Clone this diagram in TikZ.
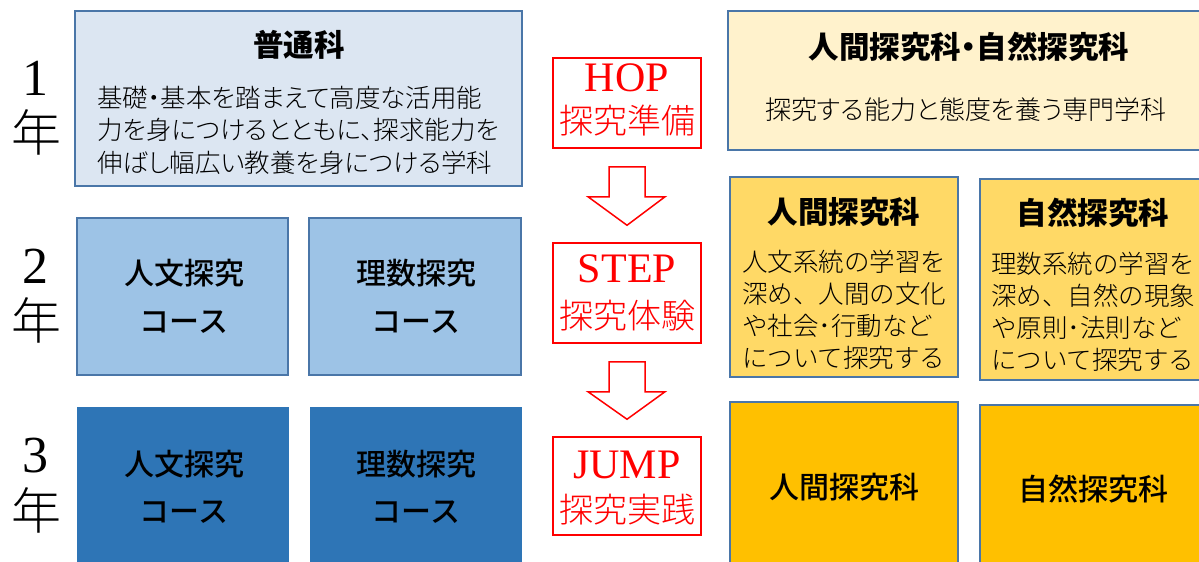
\documentclass[tikz,border=0pt]{standalone}
\usepackage{fontspec}
\setmainfont{Liberation Serif}
\newfontfamily\jp[RawFeature=+palt]{Noto Sans CJK JP}
\newfontfamily\jplight{Noto Sans CJK JP Light}
\newfontfamily\jplightp[RawFeature=+palt]{Noto Sans CJK JP Light}
\newfontfamily\jpmid{Noto Sans CJK JP Medium}
\usetikzlibrary{calc}
\definecolor{boxline}{HTML}{4A76A8}
\definecolor{futsufill}{HTML}{DCE6F2}
\definecolor{courselight}{HTML}{9DC3E6}
\definecolor{coursedeep}{HTML}{2E75B6}
\definecolor{hnpale}{HTML}{FFF2CC}
\definecolor{hnmid}{HTML}{FFD966}
\definecolor{hndeep}{HTML}{FFC000}

\begin{document}
\begin{tikzpicture}[x=1pt, y=-1pt,
  box/.style={draw=boxline, line width=1.6pt, inner sep=0pt},
  stagebox/.style={draw=red, line width=1.5pt, fill=white, minimum width=148pt, inner sep=0pt},
  stageword/.style={text=red, font=\fontsize{42}{42}\selectfont},
  stagejp/.style={text=red, font=\jplight\fontsize{34}{34}\selectfont},
  yearnum/.style={font=\fontsize{52}{52}\selectfont},
  yearjp/.style={font=\jplight\fontsize{50}{50}\selectfont},
  title/.style={font=\jp\bfseries\fontsize{30.5}{30.5}\selectfont},
  course/.style={font=\jpmid\fontsize{30}{30}\selectfont},
  body/.style={align=left, inner sep=0pt, font=\jplight\fontsize{25.5}{32}\selectfont},
  bigarrow/.style={draw=red, line width=1.5pt, fill=white, line join=miter}]
\clip (0,0) rectangle (1199,562);
\useasboundingbox (0,0) rectangle (1199,562);

% years
\foreach \n/\y in {1/78, 2/266, 3/456}{
  \node[yearnum] (yr\n) at (36,\y) {\n};
  \node[yearjp] (nen\n) at (36,\y+54) {年};
}

% 1年 general course
\node[box, fill=futsufill, minimum width=447pt, minimum height=175pt] (futsu) at (298.5,98.5) {};
\node[title] (futsu-t) at (299,45) {普通科};
\node[body, anchor=west, font=\jplightp\fontsize{25.5}{32.5}\selectfont] (futsu-b) at (97,130) {基礎・基本を踏まえて高度な活用能\\力を身につけるとともに、探求能力を\\伸ばし幅広い教養を身につける学科};

% 2年 / 3年 courses
\node[box, fill=courselight, minimum width=211pt, minimum height=157pt] (jin2) at (182.5,296.5) {};
\node[box, fill=courselight, minimum width=212pt, minimum height=157pt] (ri2) at (415,296.5) {};
\node[draw=coursedeep, fill=coursedeep, inner sep=0pt, minimum width=211pt, minimum height=190pt] (jin3) at (182.5,502) {};
\node[draw=coursedeep, fill=coursedeep, inner sep=0pt, minimum width=211pt, minimum height=190pt] (ri3) at (415.5,502) {};
\foreach \c/\w/\x in {jin/人文探究/184, ri/理数探究/416}{
  \node[course] (\c2-a) at (\x,273) {\w};
  \node[course] (\c2-b) at (\x,322) {コース};
  \node[course] (\c3-a) at (\x,464) {\w};
  \node[course] (\c3-b) at (\x,512) {コース};
}

% HOP STEP JUMP
\node[stagebox, minimum height=90pt] (hop) at (627,103) {};
\node[stagebox, minimum height=100pt] (step) at (627,293) {};
\node[stagebox, minimum height=98pt] (jump) at (627,486) {};
\node[stageword] (hop-w) at (627,78) {HOP};
\node[stagejp] (hop-j) at (627,121) {探究準備};
\node[stageword] (step-w) at (627,269) {STEP};
\node[stagejp] (step-j) at (627,316) {探究体験};
\node[stageword] (jump-w) at (627,465) {JUMP};
\node[stagejp] (jump-j) at (627,510) {探究実践};
\foreach \a/\b in {hop/step, step/jump}
  \draw[bigarrow] ($(\a.south)+(-18,18)$) -- ++(0,30) -- ++(-21,0) -- ($(\b.north)+(0,-17)$)
    -- ($(\a.south)+(38,48)$) -- ++(-20,0) -- ++(0,-30) -- cycle;

% 人間探究科・自然探究科
\node[box, fill=hnpale, minimum width=487pt, minimum height=139pt] (hn) at (971.5,80.5) {};
\node[title] (hn-t) at (969,47) {人間探究科・自然探究科};
\node[font=\jplightp\fontsize{26}{26}\selectfont] (hn-b) at (966,110) {探究する能力と態度を養う専門学科};

\node[box, fill=hnmid, minimum width=228pt, minimum height=200pt] (ningen2) at (844,277) {};
\node[box, fill=hnmid, minimum width=232pt, minimum height=201pt] (shizen2) at (1096,279.5) {};
\node[title] (ningen2-t) at (844,212) {人間探究科};
\node[title] (shizen2-t) at (1093,213) {自然探究科};
\node[body, anchor=west] (ningen2-b) at (742,310) {人文系統の学習を\\深め、人間の文化\\や社会･行動など\\について探究する};
\node[body, anchor=west] (shizen2-b) at (991,312) {理数系統の学習を\\深め、自然の現象\\や原則･法則など\\について探究する};

\node[box, fill=hndeep, minimum width=228pt, minimum height=200pt] (ningen3) at (844,502) {};
\node[box, fill=hndeep, minimum width=232pt, minimum height=200pt] (shizen3) at (1096,505) {};
\node[course] (ningen3-t) at (844,487) {人間探究科};
\node[course] (shizen3-t) at (1093,489) {自然探究科};
\end{tikzpicture}
\end{document}
